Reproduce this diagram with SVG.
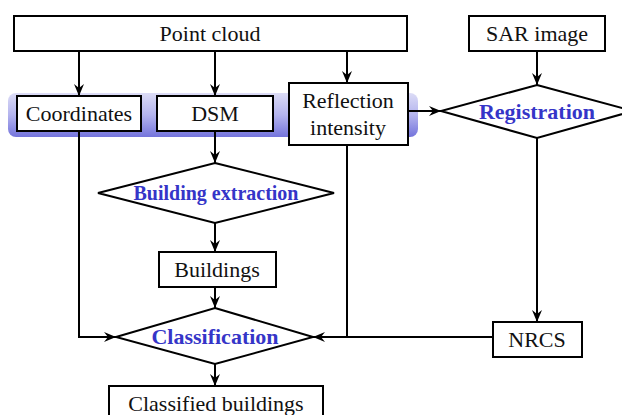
<svg xmlns="http://www.w3.org/2000/svg" width="622" height="415" viewBox="0 0 622 415">
<defs>
<linearGradient id="band" x1="0" y1="0" x2="0" y2="1">
<stop offset="0" stop-color="#dcdcf6"/>
<stop offset="0.5" stop-color="#b4b4ee"/>
<stop offset="1" stop-color="#7474dc"/>
</linearGradient>
<marker id="arr" viewBox="0 0 12 10" refX="12" refY="5" markerWidth="12" markerHeight="10" markerUnits="userSpaceOnUse" orient="auto">
<path d="M0,0 L12,5 L0,10 L4,5 Z" fill="#000"/>
</marker>
<style>
.box{fill:#fff;stroke:#000;stroke-width:2}
.dia{fill:#fff;stroke:#000;stroke-width:2}
.t{font-family:"Liberation Serif","Times New Roman",serif;font-size:22px;fill:#111;text-anchor:middle}
.b{font-family:"Liberation Serif","Times New Roman",serif;font-size:22px;font-weight:bold;fill:#3535c8;text-anchor:middle}
.c{fill:none;stroke:#000;stroke-width:2}
</style>
</defs>
<rect x="8" y="93" width="410" height="44" rx="8" ry="8" fill="url(#band)"/>
<g id="connectors">
<line class="c" x1="79" y1="51" x2="79" y2="96" marker-end="url(#arr)"/>
<line class="c" x1="215" y1="51" x2="215" y2="96" marker-end="url(#arr)"/>
<line class="c" x1="347" y1="51" x2="347" y2="83" marker-end="url(#arr)"/>
<line class="c" x1="537" y1="51" x2="537" y2="85" marker-end="url(#arr)"/>
<line class="c" x1="408" y1="111" x2="441" y2="111" marker-end="url(#arr)"/>
<line class="c" x1="215" y1="131" x2="215" y2="163" marker-end="url(#arr)"/>
<line class="c" x1="215" y1="223" x2="215" y2="252" marker-end="url(#arr)"/>
<line class="c" x1="215" y1="287" x2="215" y2="308" marker-end="url(#arr)"/>
<line class="c" x1="215" y1="364" x2="215" y2="386" marker-end="url(#arr)"/>
<line class="c" x1="537" y1="138" x2="537" y2="322" marker-end="url(#arr)"/>
<polyline class="c" points="79,131 79,337 116,337" marker-end="url(#arr)"/>
<line class="c" x1="493" y1="337" x2="313" y2="337" marker-end="url(#arr)"/>
<line class="c" x1="347" y1="145" x2="347" y2="337"/>
</g>
<g id="point-cloud"><rect class="box" x="14" y="16" width="393" height="35"/><text class="t" x="210" y="41">Point cloud</text></g>
<g id="sar-image"><rect class="box" x="469" y="16" width="136" height="35"/><text class="t" x="537" y="41">SAR image</text></g>
<g id="coordinates"><rect class="box" x="17" y="96" width="124" height="35"/><text class="t" x="79" y="121">Coordinates</text></g>
<g id="dsm"><rect class="box" x="157" y="96" width="116" height="35"/><text class="t" x="215" y="121">DSM</text></g>
<g id="reflection-intensity"><rect class="box" x="289" y="83" width="119" height="62"/><text class="t" x="348" y="108">Reflection</text><text class="t" x="348" y="135">intensity</text></g>
<g id="registration"><polygon class="dia" points="537,85 633,111 537,138 441,111"/><text class="b" x="537" y="119">Registration</text></g>
<g id="building-extraction"><polygon class="dia" points="215,163 334,193 215,223 98,193"/><text class="b" x="216" y="200" font-size="20" textLength="165" lengthAdjust="spacingAndGlyphs">Building extraction</text></g>
<g id="buildings"><rect class="box" x="159" y="252" width="117" height="35"/><text class="t" x="217" y="277">Buildings</text></g>
<g id="classification"><polygon class="dia" points="215,308 313,337 215,364 116,337"/><text class="b" x="215" y="344">Classification</text></g>
<g id="nrcs"><rect class="box" x="493" y="322" width="89" height="35"/><text class="t" x="537" y="347">NRCS</text></g>
<g id="classified-buildings"><rect class="box" x="109" y="386" width="214" height="35"/><text class="t" x="216" y="411">Classified buildings</text></g>
</svg>
